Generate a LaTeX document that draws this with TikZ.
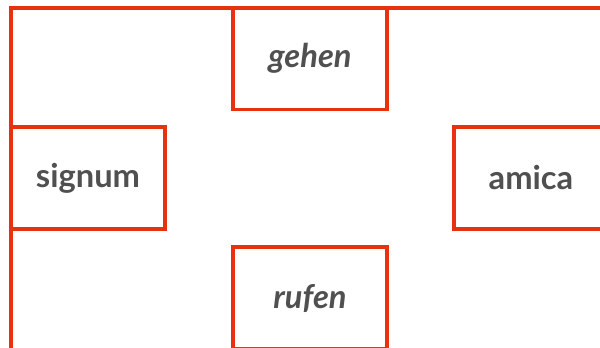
\documentclass[tikz,border=0pt]{standalone}
\usepackage{fontspec}
\setmainfont{Lato}
\definecolor{boxred}{HTML}{E8320F}
\definecolor{txtgray}{HTML}{505050}
\begin{document}
\begin{tikzpicture}[x=0.75pt,y=-0.75pt,
  wordbox/.style={draw=boxred,line width=2.5pt,minimum width=154*0.75pt,minimum height=102*0.75pt,inner sep=0pt,
    text=txtgray,font=\fontsize{24.5}{28}\selectfont\bfseries}]
\useasboundingbox (0,0) rectangle (600,347);
\clip (0,0) rectangle (600,347);
\fill[white] (0,0) rectangle (600,347);
\draw[boxred,line width=2.5pt] (610,8) -- (11,8) -- (11,360);
\node[wordbox] (gehen) at (310,58.5) {\itshape gehen};
\node[wordbox] (signum) at (88,178) {signum};
\node[wordbox] (amica) at (531,178) {amica};
\node[wordbox] (rufen) at (310,298) {\itshape rufen};
\end{tikzpicture}
\end{document}
